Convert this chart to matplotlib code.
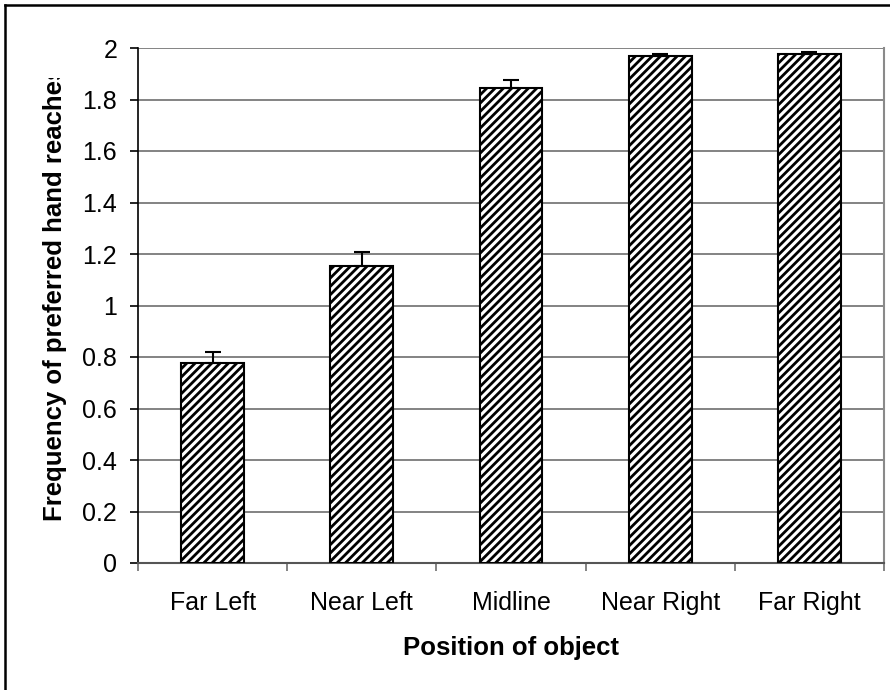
import matplotlib
matplotlib.use("Agg")
import matplotlib.pyplot as plt
from matplotlib.lines import Line2D
from matplotlib.transforms import Bbox, TransformedBbox
import numpy as np

categories = ["Far Left", "Near Left", "Midline", "Near Right", "Far Right"]
values = [0.775, 1.155, 1.845, 1.968, 1.977]
errors = [0.045, 0.053, 0.031, 0.009, 0.009]
yticks = [0, 0.2, 0.4, 0.6, 0.8, 1, 1.2, 1.4, 1.6, 1.8, 2]
ytick_labels = ["0", "0.2", "0.4", "0.6", "0.8", "1", "1.2", "1.4", "1.6", "1.8", "2"]

plt.rcParams['font.family'] = ['Liberation Sans', 'DejaVu Sans']
plt.rcParams['hatch.linewidth'] = 2.0
plt.rcParams['hatch.color'] = 'black'

fig = plt.figure(figsize=(8.9, 6.9), dpi=100)
ax = fig.add_axes([138/890, 1 - 563/690, (884-138)/890, (563-48)/690])

x = np.arange(len(categories))
ax.bar(x, values, width=0.42, color='white', edgecolor='black', linewidth=1.5,
       hatch='////', zorder=3)
ax.errorbar(x, values, yerr=[np.zeros(len(errors)), errors], fmt='none',
            ecolor='black', elinewidth=1.5, capsize=5.8, capthick=1.5, zorder=4)

ax.set_xlim(-0.5, len(categories) - 0.5)
ax.set_ylim(0, 2)
ax.set_yticks(yticks)
ax.set_yticklabels(ytick_labels, fontsize=18)
ax.yaxis.grid(True, color='#6e6e6e', linewidth=1.2, zorder=0)
ax.set_axisbelow(True)

ax.set_xticks(x)
ax.set_xticklabels(categories, fontsize=18)
ax.tick_params(axis='x', length=0, pad=20)
ax.set_xticks(np.arange(len(categories) + 1) - 0.5, minor=True)
ax.tick_params(axis='x', which='minor', length=6, width=1.2, color='#6e6e6e')
ax.tick_params(axis='y', length=6, width=1.2, pad=9)

ax.spines['top'].set_visible(False)
ax.spines['right'].set_color('#8a8a8a')
ax.spines['right'].set_linewidth(1.5)
ax.spines['left'].set_color('black')
ax.spines['left'].set_linewidth(1.2)
ax.spines['bottom'].set_color('#555555')
ax.spines['bottom'].set_linewidth(1.5)

ax.set_xlabel("Position of object", fontsize=18.5, fontweight='bold', labelpad=15)
yl = ax.set_ylabel("Frequency of preferred hand reaches", fontsize=18.5,
                   fontweight='bold')
ax.yaxis.set_label_coords((67 - 138) / 746, 0.524)
yl.set_clip_on(True)
yl.set_clip_box(TransformedBbox(Bbox([[0, 0], [1, 1 - 78/690]]), fig.transFigure))

# outer chart border (left and top visible)
fig.add_artist(Line2D([5/890, 5/890], [0, 1 - 5/690], transform=fig.transFigure,
                      color='black', linewidth=1.8))
fig.add_artist(Line2D([5/890, 1], [1 - 5/690, 1 - 5/690], transform=fig.transFigure,
                      color='black', linewidth=1.8))

fig.savefig("out.png", dpi=100)
